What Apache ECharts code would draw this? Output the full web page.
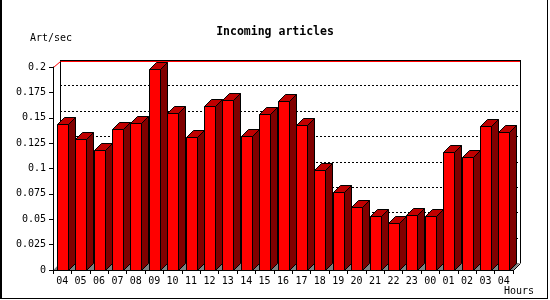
<!DOCTYPE html>
<html>
<head>
<meta charset="utf-8">
<script src="https://cdn.jsdelivr.net/npm/echarts@6/dist/echarts.min.js"></script>
<style>html,body{margin:0;padding:0;background:#fff}#c{width:550px;height:300px}</style>
</head>
<body>
<div id="c"></div>
<script>
var categories = ['04','05','06','07','08','09','10','11','12','13','14','15','16','17','18','19','20','21','22','23','00','01','02','03','04'];
var values = [0.1443,0.1286,0.1187,0.1394,0.1453,0.1984,0.1551,0.1315,0.1620,0.1679,0.1325,0.1541,0.1669,0.1433,0.0981,0.0764,0.0617,0.0528,0.0459,0.0538,0.0528,0.1158,0.1109,0.1414,0.1364];
var yTicks = [0.025,0.05,0.075,0.1,0.125,0.15,0.175];
var yMax = 0.2;

var D = 7;
var FONT = 'DejaVu Sans Mono';
var chart = echarts.init(document.getElementById('c'), null, {renderer:'canvas'});

var barData = values.map(function(v,i){ return [i, v]; });

function wallRender(params, api){
  var cs = params.coordSys;
  var left = Math.round(cs.x), right = Math.round(cs.x + cs.width);
  var bottom = Math.round(cs.y + cs.height);
  var topY = Math.round(api.coord([0, yMax])[1]);
  var ch = [];
  // floor
  ch.push({type:'polygon', shape:{points:[[left,bottom+0.5],[right,bottom+0.5],[right+D,bottom-D],[left+D,bottom-D]]}, style:{fill:'#808080', stroke:null}});
  // grid lines on back wall
  yTicks.forEach(function(t){
    var y = Math.round(api.coord([0,t])[1]) - D + 0.5;
    ch.push({type:'line', shape:{x1:left+D, y1:y, x2:right+D, y2:y}, style:{stroke:'#000', lineWidth:1, lineDash:[2,2]}});
  });
  // back wall edges
  ch.push({type:'line', shape:{x1:left+D+0.5, y1:topY-D, x2:left+D+0.5, y2:bottom-D}, style:{stroke:'#000', lineWidth:1}});
  ch.push({type:'line', shape:{x1:right+D+0.5, y1:topY-D, x2:right+D+0.5, y2:bottom-D}, style:{stroke:'#000', lineWidth:1}});
  ch.push({type:'line', shape:{x1:left+D, y1:topY-D+0.5, x2:right+D+1, y2:topY-D+0.5}, style:{stroke:'#000', lineWidth:1}});
  ch.push({type:'line', shape:{x1:left+D+1, y1:topY-D+1.5, x2:right+D, y2:topY-D+1.5}, style:{stroke:'#ff0000', lineWidth:1}});
  ch.push({type:'line', shape:{x1:left+0.5, y1:topY+0.5, x2:left+D+0.5, y2:topY-D+1.5}, style:{stroke:'#ff0000', lineWidth:1}});
  // floor right diagonal
  ch.push({type:'line', shape:{x1:right+0.5, y1:bottom+0.5, x2:right+D+0.5, y2:bottom-D+0.5}, style:{stroke:'#000', lineWidth:1}});
  return {type:'group', children:ch};
}

function barRender(params, api){
  var idx = api.value(0), v = api.value(1);
  var p0 = api.coord([idx, 0]);
  var p1 = api.coord([idx, v]);
  var band = api.size([1,0])[0];
  var bw = Math.round(band * 0.6);
  var x0 = Math.round(p0[0] - bw/2) + 0.5;
  var x1 = x0 + bw;
  var yb = Math.round(p0[1]) + 0.5;
  var yt = Math.round(p1[1]) + 0.5;
  var st = {stroke:'#000', lineWidth:1};
  return {type:'group', children:[
    {type:'polygon', shape:{points:[[x1,yt],[x1+D,yt-D],[x1+D,yb-D],[x1,yb]]}, style:Object.assign({fill:'#800000'}, st)},
    {type:'polygon', shape:{points:[[x0,yt],[x0+D,yt-D],[x1+D,yt-D],[x1,yt]]}, style:Object.assign({fill:'#c00000'}, st)},
    {type:'polygon', shape:{points:[[x0,yt],[x1,yt],[x1,yb],[x0,yb]]}, style:Object.assign({fill:'#ff0000'}, st)}
  ]};
}

chart.setOption({
  animation:false,
  backgroundColor:'#fff',
  title:{text:'Incoming articles', left:'center', top:21, textStyle:{fontFamily:FONT, fontWeight:'bold', fontSize:11.5, color:'#000'}},
  grid:{left:53, right:37, top:67, bottom:30, containLabel:false},
  xAxis:{type:'category', data:categories, boundaryGap:true,
    axisLine:{lineStyle:{color:'#000', width:1}},
    axisTick:{show:true, length:4, lineStyle:{color:'#000'}, alignWithLabel:false, interval:0},
    axisLabel:{interval:0, margin:6, fontFamily:FONT, fontSize:10, color:'#000'},
    splitLine:{show:false}, z:5},
  yAxis:{type:'value', min:0, max:yMax, interval:0.025,
    axisLine:{show:true, lineStyle:{color:'#000', width:1}},
    axisTick:{show:true, length:4, lineStyle:{color:'#000'}},
    axisLabel:{margin:7, fontFamily:FONT, fontSize:10, color:'#000'},
    splitLine:{show:false}, z:5},
  graphic:[
    {type:'text', left:30, top:33, style:{text:'Art/sec', font:'10px "DejaVu Sans Mono"', fill:'#000'}},
    {type:'text', left:504, top:286, style:{text:'Hours', font:'10px "DejaVu Sans Mono"', fill:'#000'}},
    {type:'rect', shape:{x:0, y:-2, width:2, height:301}, style:{fill:'#000'}},
    {type:'line', shape:{x1:547.5, y1:0, x2:547.5, y2:299}, style:{stroke:'#000', lineWidth:1}},
    {type:'line', shape:{x1:0, y1:298.5, x2:548, y2:298.5}, style:{stroke:'#000', lineWidth:1}}
  ],
  series:[
    {type:'custom', renderItem:wallRender, data:[[0,0]], z:1, silent:true},
    {type:'custom', renderItem:barRender, data:barData, encode:{x:0, y:1}, z:2, silent:true}
  ]
});
</script>
</body>
</html>
